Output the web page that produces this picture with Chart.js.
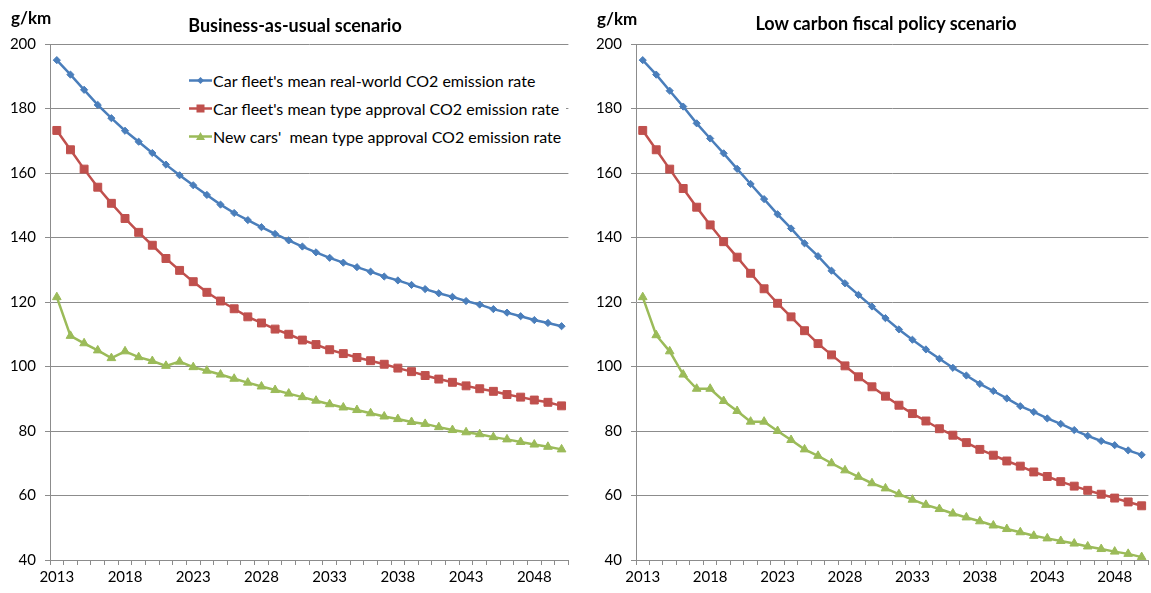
<!DOCTYPE html>
<html>
<head>
<meta charset="utf-8">
<script src="https://cdn.jsdelivr.net/npm/chart.js@4.4.1/dist/chart.umd.min.js"></script>
<style>
html, body { margin: 0; padding: 0; background: #fff; overflow: hidden; width: 1151px; height: 593px; }
body { position: relative; font-family: Lato, "Open Sans", sans-serif; color: #000; }
.panel { position: absolute; top: 0; height: 593px; }
#leftPanel { left: 0; width: 575px; }
#rightPanel { left: 575px; width: 580px; }
.title { position: absolute; font-weight: bold; font-size: 18px; white-space: nowrap; transform: translate(-50%, -50%); }
.unit { position: absolute; font-weight: bold; font-size: 17px; transform: translateY(-50%); }
#legend { position: absolute; left: 180px; top: 66px; width: 386px; height: 84px; background: #fff; }
.row { position: absolute; left: 9px; height: 20px; display: flex; align-items: center; font-size: 16px; white-space: pre; transform: translateY(-50%); }
.row svg { margin-right: 1px; }
</style>
</head>
<body>
<div class="panel" id="leftPanel"><canvas id="bauChart"></canvas></div>
<div class="panel" id="rightPanel"><canvas id="lcChart"></canvas></div>

<div class="unit" style="left:11px; top:17px;">g/km</div>
<div class="unit" style="left:597px; top:18px;">g/km</div>
<div class="title" style="left:295px; top:25px;">Business-as-usual scenario</div>
<div class="title" style="left:886px; top:23px;">Low carbon fiscal policy scenario</div>

<div id="legend"></div>

<script>
// years 2013..2050, only every 5th one gets a label
var years = [];
for (var y = 2013; y <= 2050; y++) years.push(String(y));
var tickYears = ["2013", "2018", "2023", "2028", "2033", "2038", "2043", "2048"];

var seriesNames = [
    "Car fleet's mean real-world CO2 emission rate",
    "Car fleet's mean type approval CO2 emission rate",
    "New cars'  mean type approval CO2 emission rate"
];

// business-as-usual
var bauRealWorld = [195.0, 190.5, 185.8, 181.1, 177.0, 173.1, 169.7, 166.2, 162.6, 159.3, 156.2, 153.2, 150.2, 147.6,
    145.4, 143.2, 141.1, 139.1, 137.2, 135.4, 133.7, 132.2, 130.8, 129.4, 127.9, 126.7, 125.3,
    124.0, 122.7, 121.6, 120.3, 119.2, 117.8, 116.7, 115.6, 114.4, 113.5, 112.5];
var bauFleetTA = [173.2, 167.2, 161.2, 155.6, 150.6, 145.9, 141.6, 137.6, 133.5, 129.8, 126.3, 123.0, 120.3,
    117.9, 115.4, 113.5, 111.6, 110.0, 108.2, 106.8, 105.2, 104.0, 102.8, 101.8, 100.7, 99.5, 98.4,
    97.2, 96.1, 95.1, 94.0, 93.1, 92.3, 91.3, 90.5, 89.6, 88.9, 87.8];
var bauNewCars = [121.5, 109.5, 107.2, 105.0, 102.6, 104.7, 102.9, 101.7, 100.2, 101.5, 99.8, 98.7, 97.5, 96.2,
    95.0, 93.8, 92.7, 91.6, 90.5, 89.4, 88.3, 87.3, 86.5, 85.5, 84.5, 83.7, 82.8,
    82.2, 81.2, 80.3, 79.6, 79.0, 78.1, 77.4, 76.6, 75.8, 75.1, 74.3];

// low carbon fiscal policy
var lcRealWorld = [195.0, 190.5, 185.5, 180.6, 175.4, 170.7, 166.1, 161.3, 156.6, 151.9, 147.2, 142.8, 138.2,
    134.2, 129.7, 125.8, 122.2, 118.6, 115.0, 111.5, 108.3, 105.3, 102.4, 99.6, 97.2, 94.6, 92.4,
    90.1, 87.7, 85.9, 83.9, 82.2, 80.3, 78.5, 76.9, 75.6, 74.0, 72.6];
var lcFleetTA = [173.2, 167.2, 161.2, 155.2, 149.4, 143.9, 138.7, 133.9, 128.9, 124.1,
    119.6, 115.4, 111.1, 107.1, 103.6, 100.2, 96.8, 93.7, 90.8, 88.0, 85.4, 83.1, 80.7, 78.7, 76.4, 74.3,
    72.5, 70.7, 69.1, 67.3, 65.9, 64.3, 62.9, 61.6, 60.4, 59.2, 58.0, 56.8];
var lcNewCars = [121.5, 109.7, 104.7, 97.5, 93.1, 93.1, 89.3, 86.2, 82.9, 82.9, 80.0, 77.2, 74.3,
    72.3, 70.0, 67.8, 65.8, 63.8, 62.2, 60.4, 58.7, 57.1, 55.8, 54.4, 53.2, 52.0, 50.7,
    49.6, 48.6, 47.5, 46.7, 45.9, 45.1, 44.2, 43.4, 42.6, 41.9, 40.9];

var colors = ["#4A7EBB", "#C0504D", "#9BBB59"];
var pointStyles = ["rectRot", "rect", "triangle"];
var pointSizes = [3.6, 5.6, 5];

var gridColor = "#8c8c8c";
var fontSpec = { family: "Lato, 'Open Sans', sans-serif", size: 15 };

function makeDataset(i, values){
    return {
        label: seriesNames[i],
        data: values,
        borderColor: colors[i],
        backgroundColor: colors[i],
        borderWidth: 2.5,
        pointStyle: pointStyles[i],
        pointRadius: pointSizes[i],
        pointBorderWidth: 1,
        pointBorderColor: colors[i],
        pointBackgroundColor: colors[i],
        tension: 0
    };
}

function makeChart(canvasId, real, fleet, newCars, axisWidth, padRight){
    var ctx = document.getElementById(canvasId).getContext("2d");
    return new Chart(ctx, {
        type: "line",
        data: {
            labels: years,
            datasets: [makeDataset(0, real), makeDataset(1, fleet), makeDataset(2, newCars)]
        },
        options: {
            responsive: true,
            maintainAspectRatio: false,
            animation: false,
            layout: { padding: { top: 44, right: padRight, left: 0, bottom: 0 } },
            plugins: {
                legend: { display: false },
                tooltip: { enabled: false }
            },
            scales: {
                x: {
                    type: "category",
                    offset: true,
                    grid: { drawOnChartArea: false, offset: true, tickLength: 5, color: gridColor, tickColor: gridColor },
                    border: { color: gridColor, width: 1 },
                    ticks: {
                        autoSkip: false, maxRotation: 0, padding: 3, color: "#000", font: fontSpec,
                        callback: function(value){
                            var l = this.getLabelForValue(value);
                            return tickYears.indexOf(l) >= 0 ? l : "";
                        }
                    },
                    afterFit: function(scale){ scale.height = 33; }
                },
                y: {
                    min: 40,
                    max: 200,
                    grid: { color: gridColor, tickLength: 5, tickColor: gridColor },
                    border: { color: gridColor, width: 1 },
                    ticks: { stepSize: 20, padding: 9, color: "#000", font: fontSpec },
                    afterFit: function(scale){ scale.width = axisWidth; }
                }
            }
        }
    });
}

function buildLegend(){
    var box = document.getElementById("legend");
    var centers = [14, 42, 70];
    for (var i = 0; i < seriesNames.length; i++){
        var row = document.createElement("div");
        row.className = "row";
        row.style.top = centers[i] + "px";
        var marker;
        if (i == 0) marker = '<polygon points="11.5,3 15,6.5 11.5,10 8,6.5" />';
        else if (i == 1) marker = '<rect x="7.5" y="2.5" width="8" height="8" />';
        else marker = '<polygon points="11.5,2 16,10 7,10" />';
        row.innerHTML = '<svg width="23" height="13" viewBox="0 0 23 13">' +
            '<line x1="0" y1="6.5" x2="23" y2="6.5" stroke="' + colors[i] + '" stroke-width="2.5" />' +
            '<g fill="' + colors[i] + '">' + marker + '</g></svg>';
        var text = document.createElement("span");
        text.textContent = seriesNames[i];
        row.appendChild(text);
        box.appendChild(row);
    }
}

buildLegend();
var bauChart = makeChart("bauChart", bauRealWorld, bauFleetTA, bauNewCars, 50, 4);
var lcChart = makeChart("lcChart", lcRealWorld, lcFleetTA, lcNewCars, 61, 2);
</script>
</body>
</html>
